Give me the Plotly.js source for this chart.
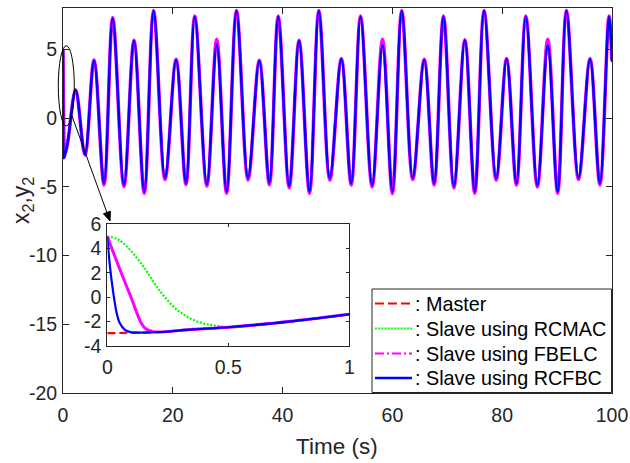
<!DOCTYPE html>
<html>
<head>
<meta charset="utf-8">
<script src="https://cdn.plot.ly/plotly-3.0.1.min.js"></script>
<style>html,body{margin:0;padding:0;background:#fff;}#chart{width:630px;height:463px;}</style>
</head>
<body>
<div id="chart"></div>
<script>
// ---- data ----
var seriesNames = [': Master', ': Slave using RCMAC', ': Slave using FBELC', ': Slave using RCFBC'];

// main axes tick labels
var xTicks = [0, 20, 40, 60, 80, 100];
var xTickText = ['0', '20', '40', '60', '80', '100'];
var yTicks = [-20, -15, -10, -5, 0, 5];
var yTickText = ['-20', '-15', '-10', '-5', '0', '5'];
// inset tick labels
var x2Ticks = [0, 0.5, 1];
var x2TickText = ['0', '0.5', '1'];
var y2Ticks = [-4, -2, 0, 2, 4, 6];
var y2TickText = ['-4', '-2', '0', '2', '4', '6'];

// initial transient (t in s)
var tMasterStart = [0, 0.05, 0.1, 0.135];
var yMasterStart = [-2.95, -2.93, -2.9, -2.9];

var tRCMACStart = [0, 0.04, 0.08, 0.15, 0.22, 0.29, 0.355, 0.42, 0.48];
var yRCMACStart = [5.0, 4.8, 4.2, 2.5, 0.45, -1.05, -1.85, -2.25, -2.40];

var tFBELCStart = [0, 0.05, 0.1, 0.14, 0.16, 0.19];
var yFBELCStart = [5.0, 2.4, -0.1, -2.1, -2.6, -2.82];

var tRCFBCStart = [0, 0.011, 0.025, 0.039, 0.052, 0.073, 0.1, 0.135];
var yRCFBCStart = [5.0, 2.52, 0.33, -1.32, -2.14, -2.68, -2.88, -2.9];

// common synchronised path after the transient
var tSync = [0.22, 0.355, 0.5, 0.77, 1.0];
var ySync = [-2.85, -2.63, -2.46, -1.95, -1.4];

// peaks and troughs of the response
var tTail = [2.3, 4.0, 5.65, 7.47, 9.05, 11.1, 12.93, 14.8, 16.5, 18.58,
  20.6, 22.4, 24.0, 26.2, 28.0, 29.8, 31.6, 33.7, 35.76, 37.6,
  39.2, 41.2, 43.0, 44.9, 46.6, 48.6, 50.7, 52.5, 54.2, 56.3,
  58.2, 60.0, 61.7, 63.7, 65.8, 67.6, 69.3, 71.2, 73.2, 75.0,
  76.7, 78.9, 80.8, 82.6, 84.3, 86.4, 88.3, 90.1, 91.7, 93.9,
  96.0, 97.8, 99.45, 100];
var yTailMaster = [2.04, -2.62, 4.17, -4.72, 7.25, -4.87, 5.62, -5.34, 7.78, -4.34,
  4.22, -4.70, 7.37, -4.82, 5.35, -5.34, 7.78, -4.36, 4.15, -4.70,
  7.37, -4.95, 5.62, -5.34, 7.78, -4.38, 4.27, -4.74, 7.37, -4.87,
  5.30, -5.34, 7.78, -4.34, 4.22, -4.74, 7.37, -4.95, 5.65, -5.34,
  7.78, -4.38, 4.27, -4.74, 7.37, -4.87, 5.30, -5.34, 7.78, -4.34,
  4.27, -4.74, 7.37, 4.1];
var yTailFBELC = [2.06, -2.70, 4.22, -4.87, 7.30, -5.00, 5.66, -5.48, 7.82, -4.48,
  4.27, -4.86, 7.42, -4.96, 5.72, -5.48, 7.82, -4.50, 4.20, -4.86,
  7.42, -5.08, 5.66, -5.48, 7.82, -4.52, 4.32, -4.88, 7.42, -5.01,
  5.72, -5.50, 7.82, -4.48, 4.27, -4.88, 7.42, -5.09, 5.69, -5.48,
  7.82, -4.52, 4.32, -4.88, 7.42, -5.02, 5.72, -5.48, 7.82, -4.48,
  4.32, -4.88, 7.42, 4.2];

// ---- assemble ----
var tM = tMasterStart.concat(tSync, tTail), yM = yMasterStart.concat(ySync, yTailMaster);
var tG = tRCMACStart.concat(tSync.slice(2), tTail), yG = yRCMACStart.concat(ySync.slice(2), yTailMaster);
var tF = tFBELCStart.concat(tSync, tTail), yF = yFBELCStart.concat(ySync, yTailFBELC);
var tB = tRCFBCStart.concat(tSync, tTail), yB = yRCFBCStart.concat(ySync, yTailMaster);

var xs = [tM, tG, tF, tB], ys = [yM, yG, yF, yB];
var colors = ['#ff0000', '#00ff00', '#ff00ff', '#0000ff'];
var dashesMain = ['8px,4px', '2px,1.6px', 'solid', 'solid'];
var dashesInset = ['8px,4px', '2px,1.6px', 'solid', 'solid'];
var dashesLegend = ['9px,4px', '2px,1.2px', '9px,3px,2px,3px', 'solid'];
var widthsMain = [2, 2, 3.5, 2.5];
var widthsInset = [2.2, 2.2, 3, 2.2];
var widthsLegend = [2, 2, 2, 2.4];

var traces = [];
for (var i = 0; i < 4; i++) {
  traces.push({x: xs[i], y: ys[i], type: 'scatter', mode: 'lines', name: seriesNames[i],
    line: {color: colors[i], dash: dashesMain[i], width: widthsMain[i], shape: 'spline', smoothing: 1},
    xaxis: 'x', yaxis: 'y', showlegend: false});
}
for (var j = 0; j < 4; j++) {
  traces.push({x: xs[j], y: ys[j], type: 'scatter', mode: 'lines', name: seriesNames[j],
    line: {color: colors[j], dash: dashesInset[j], width: widthsInset[j], shape: 'spline', smoothing: 1},
    xaxis: 'x2', yaxis: 'y2', showlegend: false});
}

// ---- pixel -> paper helpers (main plot area: x 63..612, y 8..393) ----
var L = 63, R = 612, T = 8, B = 393;
function px(x) { return (x - L) / (R - L); }
function py(y) { return (B - y) / (B - T); }

var FONT = '"Liberation Sans", Arial, sans-serif';
var axisCommon = {showgrid: false, zeroline: false, showline: true, linecolor: '#262626', linewidth: 1,
  ticks: 'inside', tickcolor: '#262626', mirror: 'ticks', tickfont: {family: FONT, size: 19.5, color: '#262626'}};

var shapes = [
  {type: 'rect', xref: 'paper', yref: 'paper', x0: px(107.3), x1: px(349.3), y0: py(346), y1: py(224.3),
    fillcolor: '#ffffff', line: {width: 0}, layer: 'below'},
  {type: 'circle', xref: 'paper', yref: 'paper', x0: px(58.3), x1: px(74.3), y0: py(126), y1: py(45.7),
    line: {color: '#000000', width: 1}, layer: 'above'},
  // zoom arrow
  {type: 'line', xref: 'paper', yref: 'paper', x0: px(72), y0: py(116), x1: px(106.9), y1: py(212.5),
    line: {color: '#000000', width: 1}},
  {type: 'path', xref: 'paper', yref: 'paper',
    path: 'M' + px(110) + ',' + py(221) + ' L' + px(103.4) + ',' + py(213.7) + ' L' + px(110.4) + ',' + py(211.2) + ' Z',
    fillcolor: '#000000', line: {color: '#000000', width: 1}},
  // legend box
  {type: 'rect', xref: 'paper', yref: 'paper', x0: px(372), x1: px(611.5), y0: py(392.5), y1: py(289),
    fillcolor: '#ffffff', line: {color: '#262626', width: 1}, layer: 'above'}
];
var annotations = [
  {xref: 'paper', yref: 'paper', x: px(22.5), y: 0.5, xanchor: 'center', yanchor: 'middle', textangle: -90,
    text: 'x<sub>2</sub>,y<sub>2</sub>', showarrow: false, font: {family: FONT, size: 23, color: '#262626'}},
  {xref: 'paper', yref: 'paper', x: px(337), y: py(446), xanchor: 'center', yanchor: 'middle',
    text: 'Time (s)', showarrow: false, font: {family: FONT, size: 22.5, color: '#262626'}}
];
var legendRows = [303.5, 328.5, 353.5, 378];
for (var k = 0; k < 4; k++) {
  shapes.push({type: 'line', xref: 'paper', yref: 'paper', x0: px(375), x1: px(412), y0: py(legendRows[k]), y1: py(legendRows[k]),
    line: {color: colors[k], dash: dashesLegend[k], width: widthsLegend[k]}, layer: 'above'});
  annotations.push({xref: 'paper', yref: 'paper', x: px(413), y: py(legendRows[k]), xanchor: 'left', yanchor: 'middle',
    text: seriesNames[k], showarrow: false, font: {family: FONT, size: 19.8, color: '#000000'}});
}

var layout = {
  width: 630, height: 463,
  margin: {l: L, r: 630 - R, t: T, b: 463 - B},
  paper_bgcolor: '#ffffff', plot_bgcolor: '#ffffff',
  font: {family: FONT, color: '#262626'},
  xaxis: Object.assign({}, axisCommon, {range: [0, 100], tickvals: xTicks, ticktext: xTickText, ticklen: 6, domain: [0, 1],
    ticklabelstandoff: 5}),
  yaxis: Object.assign({}, axisCommon, {range: [-20, 8], tickvals: yTicks, ticktext: yTickText, ticklen: 6, domain: [0, 1],
    ticklabelstandoff: 1}),
  xaxis2: Object.assign({}, axisCommon, {anchor: 'y2', range: [0, 1], tickvals: x2Ticks, ticktext: x2TickText, ticklen: 3,
    domain: [px(107.3), px(349.3)], ticklabelstandoff: 4}),
  yaxis2: Object.assign({}, axisCommon, {anchor: 'x2', range: [-4, 6], tickvals: y2Ticks, ticktext: y2TickText, ticklen: 3,
    domain: [py(346), py(224.3)], ticklabelstandoff: 1}),
  showlegend: false,
  shapes: shapes,
  annotations: annotations
};

Plotly.newPlot('chart', traces, layout, {displayModeBar: false, staticPlot: true});
</script>
</body>
</html>
